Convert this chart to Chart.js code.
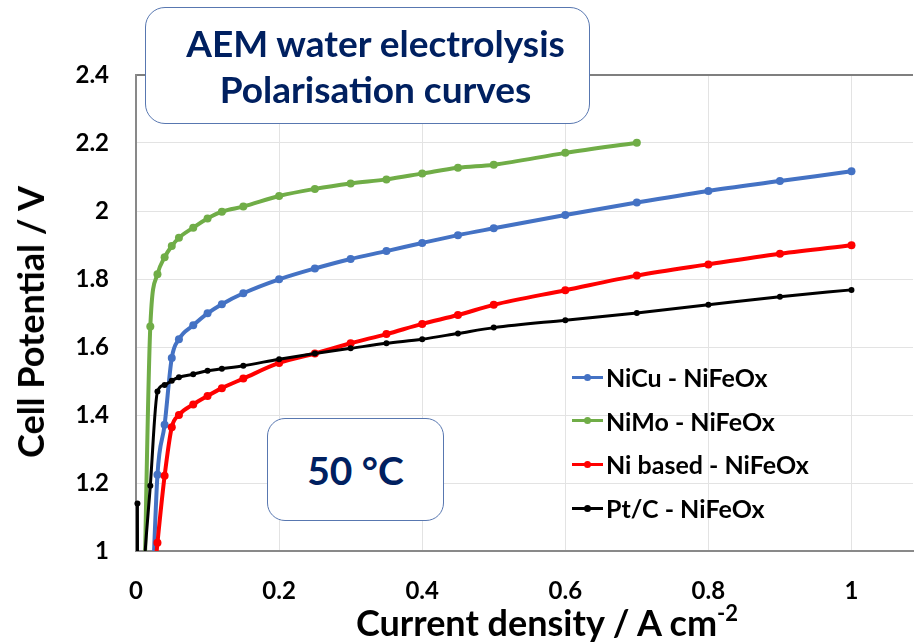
<!DOCTYPE html>
<html>
<head>
<meta charset="utf-8">
<script src="https://cdn.jsdelivr.net/npm/chart.js@4.4.0/dist/chart.umd.min.js"></script>
<style>
  body { margin: 0; background: #fff; }
  #wrap { position: relative; width: 917px; height: 642px; overflow: hidden; font-family: Lato, "Open Sans", sans-serif; font-weight: bold; }
  #myChart { position: absolute; left: 0; top: 0; }
  .box { position: absolute; background: #fff; border: 1.5px solid #5877b0; box-sizing: border-box; color: #002060; }
  #titleBox { left: 145px; top: 7px; width: 445px; height: 117px; border-radius: 20px; }
  #titleBox div { position: absolute; left: 16px; right: 0; text-align: center; font-size: 37px; line-height: 46px; white-space: nowrap; }
  #tempBox { left: 267px; top: 418px; width: 177px; height: 103px; border-radius: 18px; display: flex; align-items: center; justify-content: center; font-size: 39px; }
  .legRow { position: absolute; left: 572px; height: 30px; display: flex; align-items: center; font-size: 25px; color: #000; white-space: nowrap; }
  .legLine { position: relative; width: 31px; height: 3px; margin-right: 3px; }
  .legDot { position: absolute; left: 12px; top: -2px; width: 7px; height: 7px; border-radius: 50%; }
  .axTitle { position: absolute; font-size: 36px; color: #000; white-space: nowrap; }
  #yTitle { left: 30px; top: 322px; transform: translate(-50%, -50%) rotate(-90deg); }
  #xTitle { left: 547px; top: 622px; transform: translate(-50%, -50%); }
  #xTitle sup { font-size: 22px; vertical-align: 15px; line-height: 0; }
</style>
</head>
<body>
<div id="wrap">
  <canvas id="myChart" width="917" height="642"></canvas>
  <div class="box" id="titleBox">
    <div style="top: 12px;">AEM water electrolysis</div>
    <div style="top: 58px;">Polarisation curves</div>
  </div>
  <div class="box" id="tempBox">50 °C</div>
  <div id="legend"></div>
  <div class="axTitle" id="yTitle">Cell Potential / V</div>
  <div class="axTitle" id="xTitle">Current density / A cm<sup>-2</sup></div>
</div>
<script>
const ctx = document.getElementById("myChart");

var seriesLabels = ["NiCu - NiFeOx", "NiMo - NiFeOx", "Ni based - NiFeOx", "Pt/C - NiFeOx"];
var seriesColors = ["#4472C4", "#70AD47", "#FF0000", "#000000"];

// current density (A cm-2) and cell potential (V) per series
var niCuX = [0.02, 0.03, 0.04, 0.05, 0.06, 0.08, 0.1, 0.12, 0.15, 0.2, 0.25, 0.3, 0.35, 0.4, 0.45, 0.5, 0.6, 0.7, 0.8, 0.9, 1.0];
var niCuY = [0.7, 1.224, 1.371, 1.568, 1.623, 1.664, 1.699, 1.726, 1.758, 1.799, 1.831, 1.859, 1.882, 1.906, 1.929, 1.949, 1.988, 2.025, 2.059, 2.088, 2.117];

var niMoX = [0.01, 0.02, 0.03, 0.04, 0.05, 0.06, 0.08, 0.1, 0.12, 0.15, 0.2, 0.25, 0.3, 0.35, 0.4, 0.45, 0.5, 0.6, 0.7];
var niMoY = [0.7, 1.66, 1.814, 1.864, 1.897, 1.921, 1.951, 1.978, 1.998, 2.013, 2.044, 2.065, 2.081, 2.093, 2.11, 2.127, 2.136, 2.171, 2.201];

var niX = [0.02, 0.03, 0.04, 0.05, 0.06, 0.08, 0.1, 0.12, 0.15, 0.2, 0.25, 0.3, 0.35, 0.4, 0.45, 0.5, 0.6, 0.7, 0.8, 0.9, 1.0];
var niY = [0.8, 1.024, 1.221, 1.364, 1.4, 1.431, 1.456, 1.479, 1.507, 1.553, 1.581, 1.611, 1.638, 1.668, 1.694, 1.724, 1.767, 1.81, 1.843, 1.874, 1.899];

var ptX = [0.002, 0.0025, 0.01, 0.02, 0.03, 0.04, 0.05, 0.06, 0.08, 0.1, 0.12, 0.15, 0.2, 0.25, 0.3, 0.35, 0.4, 0.45, 0.5, 0.6, 0.7, 0.8, 0.9, 1.0];
var ptY = [1.14, 0.5, 0.9, 1.192, 1.469, 1.488, 1.501, 1.511, 1.52, 1.53, 1.536, 1.545, 1.564, 1.581, 1.596, 1.611, 1.623, 1.64, 1.657, 1.679, 1.7, 1.724, 1.748, 1.768];

var yTicks = [1, 1.2, 1.4, 1.6, 1.8, 2, 2.2, 2.4];
var xTicks = [0, 0.2, 0.4, 0.6, 0.8, 1];

var allX = [niCuX, niMoX, niX, ptX];
var allY = [niCuY, niMoY, niY, ptY];

function toPoints(xs, ys) {
  return xs.map(function (x, i) {
    return { x: x, y: ys[i] };
  });
}

var datasets = seriesLabels.map(function (label, i) {
  var black = i === 3;
  return {
    label: label,
    data: toPoints(allX[i], allY[i]),
    borderColor: seriesColors[i],
    backgroundColor: seriesColors[i],
    borderWidth: black ? 3 : 4,
    pointRadius: black ? 3 : 4,
    pointBorderWidth: 0,
    cubicInterpolationMode: "monotone",
    clip: { left: 6, top: 0, right: 0, bottom: 0 },
    order: 4 - i, // later series on top, like the original
  };
});

// legend as html
var legend = document.getElementById("legend");
seriesLabels.forEach(function (label, i) {
  var row = document.createElement("div");
  row.className = "legRow";
  row.style.top = 377 + i * 43.7 - 15 + "px";
  row.innerHTML =
    '<span class="legLine" style="background:' + seriesColors[i] + '">' +
    '<span class="legDot" style="background:' + seriesColors[i] + '"></span></span>' + label;
  legend.appendChild(row);
});

function keepTicks(list) {
  return function (axis) {
    axis.ticks = list.map(function (v) {
      return { value: v };
    });
  };
}

var tickFont = { family: "Lato", weight: "bold", size: 24 };

new Chart(ctx, {
  type: "line",
  data: { datasets: datasets },
  options: {
    responsive: false,
    devicePixelRatio: 1,
    animation: false,
    layout: { padding: { top: 75, right: 0, left: 0, bottom: 0 } },
    plugins: {
      legend: { display: false },
      tooltip: { enabled: false },
    },
    scales: {
      x: {
        type: "linear",
        min: 0,
        max: 1.086,
        afterBuildTicks: keepTicks(xTicks),
        afterFit: function (scale) {
          scale.height = 91;
        },
        ticks: {
          padding: 26,
          color: "#000",
          font: tickFont,
          maxRotation: 0,
          callback: function (v) {
            return String(+v.toFixed(2));
          },
        },
        grid: { color: "#e3e3e3", lineWidth: 1, drawTicks: false },
        border: { color: "#898989", width: 2 },
      },
      y: {
        type: "linear",
        min: 1,
        max: 2.4,
        afterBuildTicks: keepTicks(yTicks),
        afterFit: function (scale) {
          scale.width = 136;
        },
        ticks: {
          padding: 27,
          color: "#000",
          font: tickFont,
          callback: function (v) {
            return String(+v.toFixed(2));
          },
        },
        grid: {
          drawTicks: false,
          color: function (c) {
            return c.tick && c.tick.value > 2.39 ? "#7f7f7f" : "#e3e3e3";
          },
          lineWidth: function (c) {
            return c.tick && c.tick.value > 2.39 ? 2 : 1;
          },
        },
        border: { color: "#898989", width: 2 },
      },
    },
  },
});
</script>
</body>
</html>
